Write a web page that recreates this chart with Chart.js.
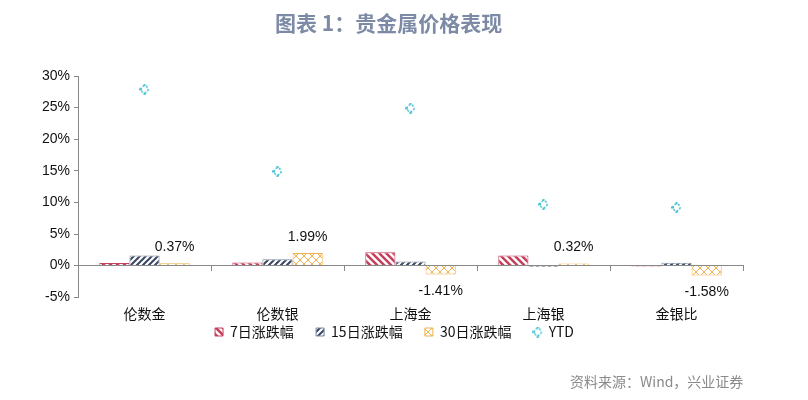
<!DOCTYPE html>
<html>
<head>
<meta charset="utf-8">
<script src="https://cdn.jsdelivr.net/npm/chart.js@4.4.1/dist/chart.umd.min.js"></script>
<style>
  body { margin: 0; background: #fff; }
  #wrap { position: relative; width: 808px; height: 400px; }
  #title { position: absolute; left: 275px; top: 7px; font: bold 21px "Noto Sans CJK SC"; color: #7c8aa5; white-space: pre; }
  #source { position: absolute; left: 570px; top: 371px; font: 14px "Noto Sans CJK SC"; color: #8a8a8a; }
</style>
</head>
<body>
<div id="wrap">
  <canvas id="chart" width="808" height="400"></canvas>
  <div id="title">图表 1：贵金属价格表现</div>
  <div id="source">资料来源：Wind，兴业证券</div>
</div>
<script>
const categories = ["伦数金", "伦数银", "上海金", "上海银", "金银比"];
const seriesNames = ["7日涨跌幅", "15日涨跌幅", "30日涨跌幅", "YTD"];
const change7d = [0.4, 0.5, 2.1, 1.6, -0.15];
const change15d = [1.6, 1.0, 0.65, -0.2, 0.45];
const change30d = [0.37, 1.99, -1.41, 0.32, -1.58];
const ytd = [27.9, 14.9, 24.9, 9.7, 9.2];
const yMin = -5, yMax = 30, yStep = 5;

// hatch fills for the bars
function hatch(color, kind, size, width) {
  const c = document.createElement("canvas");
  c.width = c.height = size;
  const g = c.getContext("2d");
  g.fillStyle = "#fff";
  g.fillRect(0, 0, size, size);
  g.strokeStyle = color;
  g.lineWidth = width;
  g.beginPath();
  if (kind === "back" || kind === "cross") {
    g.moveTo(-1, -1); g.lineTo(size + 1, size + 1);
    g.moveTo(-size - 1, -1); g.lineTo(1, size + 1);
    g.moveTo(size - 1, -1); g.lineTo(2 * size + 1, size + 1);
  }
  if (kind === "fwd" || kind === "cross") {
    g.moveTo(-1, size + 1); g.lineTo(size + 1, -1);
    g.moveTo(-size - 1, size + 1); g.lineTo(1, -1);
    g.moveTo(size - 1, size + 1); g.lineTo(2 * size + 1, -1);
  }
  g.stroke();
  return g.createPattern(c, "repeat");
}

// little cyan marker used for YTD
function ytdMarker() {
  const c = document.createElement("canvas");
  c.width = c.height = 11;
  const g = c.getContext("2d");
  g.strokeStyle = "#45bfd3";
  g.fillStyle = "#45bfd3";
  g.lineWidth = 1.5;
  g.setLineDash([2, 1.5]);
  g.beginPath();
  g.arc(5.5, 5.5, 3.5, 0, Math.PI * 2);
  g.stroke();
  g.setLineDash([]);
  g.fillRect(0, 4.5, 3, 2);
  g.fillRect(4.5, 0, 2, 2);
  g.fillRect(4.5, 9, 2, 2);
  return c;
}

const ctx = document.getElementById("chart").getContext("2d");
const red = "#c4405c", navy = "#3a4762", gold = "#f0b04e", cyan = "#45bfd3";

const barLabels = {
  id: "barLabels",
  afterDatasetsDraw(chart) {
    const meta = chart.getDatasetMeta(2);
    const c = chart.ctx;
    c.save();
    c.font = '14px "Liberation Sans"';
    c.fillStyle = "#111";
    c.textAlign = "center";
    c.textBaseline = "middle";
    meta.data.forEach((bar, i) => {
      const v = change30d[i];
      const y = v >= 0 ? bar.y - 16 : bar.y + 17;
      c.fillText(v.toFixed(2) + "%", bar.x, y);
    });
    c.restore();
  }
};

// pull the legend up closer to the category labels
const legendNudge = {
  id: "legendNudge",
  afterLayout(chart) {
    chart.legend.top -= 7;
    chart.legend.bottom -= 7;
    chart.legend.left += 4;
    chart.legend.right += 4;
  }
};

const styles = ["rect", "rect", "rect", ytdMarker()];
const legendGap = "\u3000  "; // widen the space between legend items

new Chart(ctx, {
  type: "bar",
  data: {
    labels: categories,
    datasets: [
      { label: seriesNames[0], data: change7d, backgroundColor: hatch(red, "back", 7, 2.5), borderColor: red, borderWidth: 1 },
      { label: seriesNames[1], data: change15d, backgroundColor: hatch(navy, "fwd", 6, 2), borderColor: "#7d8aa0", borderWidth: 1 },
      { label: seriesNames[2], data: change30d, backgroundColor: hatch(gold, "cross", 8, 1), borderColor: gold, borderWidth: 1 },
      { type: "line", label: seriesNames[3], data: ytd, showLine: false, pointStyle: styles[3], borderColor: cyan, backgroundColor: cyan }
    ]
  },
  options: {
    responsive: false,
    animation: false,
    layout: { padding: { left: 38, right: 65, top: 76, bottom: 44 } },
    datasets: { bar: { categoryPercentage: 0.68, barPercentage: 1 } },
    scales: {
      x: {
        grid: { display: false, drawTicks: false },
        border: { display: false },
        ticks: { padding: 8, color: "#111", font: { family: "Noto Sans CJK SC", size: 14 } }
      },
      x2: {
        type: "category",
        position: { y: 0 },
        offset: true,
        ticks: { display: false },
        grid: { offset: true, drawOnChartArea: false, tickLength: 5, color: "#888" },
        border: { color: "#888" }
      },
      y: {
        min: yMin,
        max: yMax,
        ticks: { stepSize: yStep, padding: 4, color: "#111", font: { family: "Liberation Sans", size: 14 }, callback: v => v + "%" },
        grid: { drawOnChartArea: false, tickLength: 4, color: "#888" },
        border: { color: "#888" }
      }
    },
    plugins: {
      tooltip: { enabled: false },
      legend: {
        position: "bottom",
        labels: {
          usePointStyle: true,
          boxWidth: 8,
          boxHeight: 8,
          padding: 2,
          color: "#111",
          font: { family: "Noto Sans CJK SC", size: 14 },
          generateLabels(chart) {
            const items = Chart.defaults.plugins.legend.labels.generateLabels(chart);
            items.forEach((it, i) => {
              it.pointStyle = styles[i];
              it.lineWidth = 1;
              if (i < items.length - 1) it.text += legendGap;
            });
            return items;
          }
        }
      }
    }
  },
  plugins: [barLabels, legendNudge]
});
</script>
</body>
</html>
